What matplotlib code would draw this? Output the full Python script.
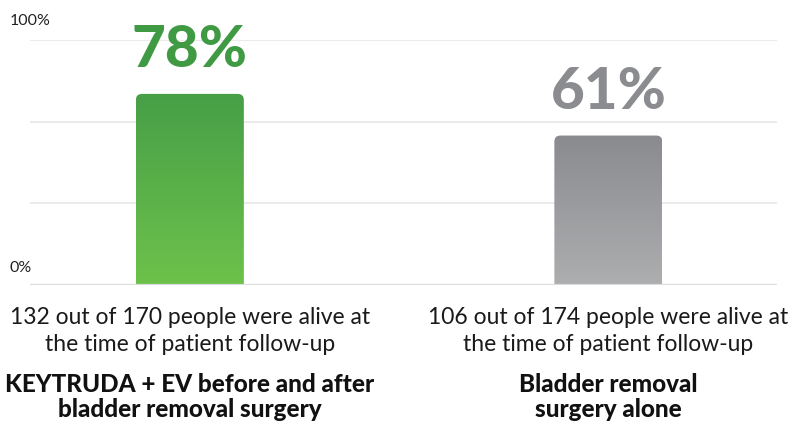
import matplotlib
matplotlib.use("Agg")
import matplotlib.pyplot as plt
import numpy as np
from matplotlib.patches import FancyBboxPatch
from matplotlib.colors import LinearSegmentedColormap
import matplotlib.transforms as mtransforms

# data
groups = ["KEYTRUDA + EV before and after\nbladder removal surgery",
          "Bladder removal\nsurgery alone"]
survival = [78, 61]
details = ["132 out of 170 people were alive at\nthe time of patient follow-up",
           "106 out of 174 people were alive at\nthe time of patient follow-up"]
y_labels = ["0%", "100%"]

# gradient colours (top, bottom) and label colours
grad = [("#479f47", "#6dc24b"), ("#898b8e", "#acaeb0")]
label_col = ["#3f9a43", "#8a8c8f"]

plt.rcParams['font.family'] = ['Lato', 'DejaVu Sans']

fig = plt.figure(figsize=(7.92, 4.24), dpi=100)
# axes area in pixels: x 30..777, y 40..285 (from top)
ax = fig.add_axes([30 / 792, (424 - 285) / 424, 747 / 792, 245 / 424])
ax.set_xlim(-0.382, 1.403)
ax.set_ylim(0, 100)
ax.axis('off')

# grid lines at thirds, baseline a bit darker
for g in [100 / 3, 200 / 3, 100]:
    ax.axhline(g, color="#e8e8e8", lw=1.2, zorder=0)
ax.axhline(0, color="#dcdcdc", lw=1.6, zorder=3)

width = 0.258
rx = 0.0145
ry = 2.5
trans = mtransforms.blended_transform_factory(ax.transData, fig.transFigure)
for i, val in enumerate(survival):
    x0 = i - width / 2
    patch = FancyBboxPatch((x0, -10), width, val + 10,
                           boxstyle="round,pad=0,rounding_size=%f" % rx,
                           mutation_aspect=ry / rx,
                           facecolor="none", edgecolor="none")
    ax.add_patch(patch)
    cmap = LinearSegmentedColormap.from_list("g%d" % i, [grad[i][1], grad[i][0]])
    im = ax.imshow(np.linspace(0, 1, 256).reshape(-1, 1), cmap=cmap,
                   origin="lower", extent=[x0, x0 + width, 0, val],
                   aspect="auto", zorder=2)
    im.set_clip_path(patch)

    ax.annotate("%d%%" % val, (i, val), xytext=(0, 12), textcoords="offset points",
                ha="center", va="bottom", fontsize=42, fontweight="black",
                color=label_col[i])

    ax.text(i, 1 - 331 / 424, details[i], transform=trans, ha="center", va="center",
            fontsize=16.5, color="#1a1a1a", linespacing=1.33, clip_on=False)
    ax.text(i, 1 - 397 / 424, groups[i], transform=trans, ha="center", va="center",
            fontsize=17.5, fontweight="black", color="#111111", linespacing=1.12,
            clip_on=False)

# y labels above the gridlines, left side
fig.text(10 / 792, 1 - 21 / 424, y_labels[1], ha="left", va="center",
         fontsize=11.5, color="#222222")
fig.text(10 / 792, 1 - 268 / 424, y_labels[0], ha="left", va="center",
         fontsize=11.5, color="#222222")

fig.savefig("out.png", dpi=100)
